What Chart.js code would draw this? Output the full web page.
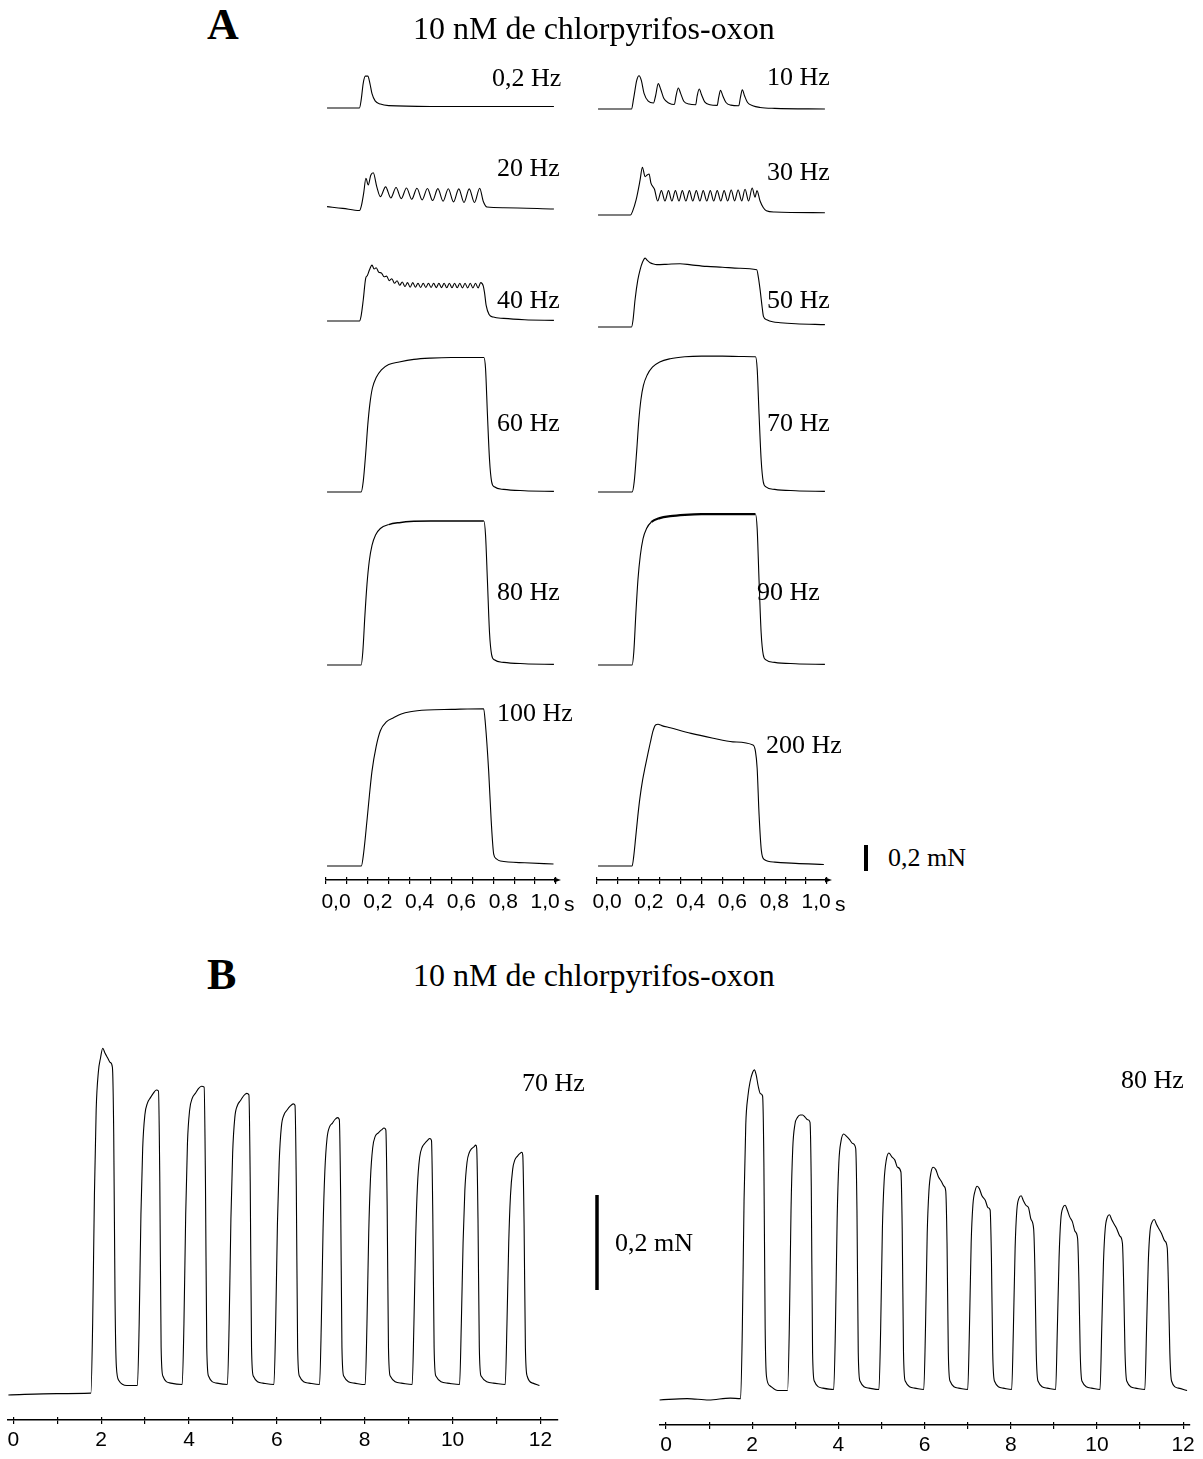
<!DOCTYPE html>
<html><head><meta charset="utf-8">
<script src="https://cdn.jsdelivr.net/npm/chart.js@4.4.0/dist/chart.umd.min.js"></script>
<style>
html,body{margin:0;padding:0;background:#fff;}
body{width:1203px;height:1459px;position:relative;overflow:hidden;}
canvas{position:absolute;}
.t{position:absolute;font-family:'Liberation Serif','Times New Roman',serif;color:#000;white-space:nowrap;line-height:1;transform:translateY(-50%);}
.s{font-family:'Liberation Sans',Arial,sans-serif;}
</style></head><body>
<script>
// ---------- DATA (time in s, force in mN above baseline) ----------
const hz0_2 = [[0.005,0],[0.16,0],[0.168,0.06],[0.178,0.19],[0.188,0.245],[0.2,0.245],[0.21,0.19],[0.22,0.11],[0.235,0.055],[0.26,0.03],[0.3,0.018],[0.5,0.012],[0.8,0.012],[1.09,0.012]];
const hz10 = [[0.005,0],[0.165,0],[0.175,0.08],[0.19,0.22],[0.201,0.256],[0.212,0.22],[0.225,0.12],[0.245,0.06],[0.27,0.046],[0.28,0.1],[0.293,0.195],[0.305,0.15],[0.32,0.08],[0.345,0.045],[0.37,0.035],[0.378,0.1],[0.389,0.162],[0.4,0.12],[0.415,0.06],[0.44,0.038],[0.472,0.033],[0.479,0.1],[0.489,0.154],[0.5,0.11],[0.515,0.055],[0.54,0.033],[0.575,0.028],[0.582,0.09],[0.591,0.143],[0.602,0.1],[0.617,0.05],[0.64,0.03],[0.678,0.025],[0.686,0.09],[0.695,0.148],[0.706,0.1],[0.72,0.05],[0.745,0.025],[0.78,0.012],[0.85,0.005],[1.09,0]];
const hz20 = [[0.005,0.018],[0.08,0.005],[0.16,-0.012],[0.17,0.03],[0.18,0.12],[0.191,0.236],[0.202,0.185],[0.214,0.26],[0.226,0.279],[0.243,0.17],[0.26,0.095],[0.285,0.17],[0.31,0.085],[0.335,0.165],[0.36,0.08],[0.385,0.162],[0.41,0.075],[0.435,0.16],[0.46,0.07],[0.485,0.158],[0.51,0.065],[0.535,0.157],[0.56,0.06],[0.585,0.156],[0.61,0.055],[0.635,0.155],[0.66,0.05],[0.685,0.155],[0.71,0.05],[0.735,0.16],[0.752,0.06],[0.77,0.015],[0.85,0.01],[1.09,0.0]];
const hz30 = [[0.005,-0.008],[0.16,-0.008],[0.17,0.02],[0.187,0.108],[0.206,0.26],[0.217,0.36],[0.23,0.287],[0.24,0.3],[0.249,0.308],[0.258,0.238],[0.275,0.19],[0.29,0.1],[0.308,0.18],[0.325,0.1],[0.342,0.18],[0.358,0.1],[0.375,0.18],[0.392,0.1],[0.408,0.18],[0.425,0.1],[0.442,0.18],[0.458,0.1],[0.475,0.18],[0.492,0.1],[0.508,0.18],[0.525,0.1],[0.542,0.18],[0.558,0.1],[0.575,0.18],[0.592,0.1],[0.608,0.18],[0.625,0.1],[0.642,0.185],[0.658,0.1],[0.675,0.185],[0.692,0.1],[0.708,0.19],[0.725,0.1],[0.742,0.2],[0.756,0.13],[0.765,0.18],[0.78,0.1],[0.795,0.05],[0.81,0.025],[0.85,0.015],[1.09,0.01]];
const hz40 = [[0.005,0],[0.16,0],[0.168,0.04],[0.178,0.16],[0.19,0.33],[0.198,0.35],[0.207,0.39],[0.22,0.43],[0.23,0.4],[0.24,0.41],[0.2525,0.375],[0.265,0.37],[0.2775,0.34],[0.29,0.345],[0.3025,0.31],[0.315,0.325],[0.3275,0.29],[0.34,0.31],[0.3525,0.275],[0.365,0.3],[0.3775,0.265],[0.39,0.295],[0.4025,0.26],[0.415,0.295],[0.4275,0.26],[0.44,0.29],[0.4525,0.258],[0.465,0.29],[0.4775,0.258],[0.49,0.29],[0.5025,0.258],[0.515,0.29],[0.5275,0.257],[0.54,0.29],[0.5525,0.257],[0.565,0.29],[0.5775,0.256],[0.59,0.29],[0.6025,0.256],[0.615,0.29],[0.6275,0.256],[0.64,0.29],[0.6525,0.255],[0.665,0.29],[0.6775,0.255],[0.69,0.29],[0.7025,0.255],[0.715,0.29],[0.7275,0.255],[0.74,0.295],[0.752,0.27],[0.758,0.22],[0.766,0.12],[0.78,0.05],[0.8,0.03],[0.85,0.02],[0.95,0.01],[1.09,0.005]];
const hz50 = [[0.005,0],[0.165,0],[0.172,0.05],[0.182,0.21],[0.195,0.36],[0.206,0.44],[0.218,0.5],[0.23,0.53],[0.242,0.51],[0.254,0.495],[0.27,0.485],[0.286,0.48],[0.33,0.482],[0.397,0.487],[0.45,0.478],[0.525,0.466],[0.6,0.46],[0.68,0.452],[0.764,0.44],[0.772,0.38],[0.78,0.287],[0.79,0.15],[0.796,0.082],[0.812,0.056],[0.84,0.04],[0.876,0.033],[0.95,0.025],[1.09,0.018]];
const hz60 = [[0.005,0],[0.168,0],[0.178,0.08],[0.19,0.3],[0.2,0.52],[0.21,0.68],[0.222,0.8],[0.24,0.88],[0.265,0.94],[0.3,0.98],[0.35,1.0],[0.42,1.02],[0.5,1.03],[0.6,1.035],[0.7,1.035],[0.755,1.035],[0.763,0.95],[0.772,0.6],[0.782,0.25],[0.792,0.08],[0.805,0.04],[0.85,0.02],[0.95,0.01],[1.09,0.005]];
const hz70 = [[0.005,0],[0.168,0],[0.178,0.08],[0.19,0.32],[0.2,0.55],[0.21,0.71],[0.222,0.82],[0.24,0.9],[0.265,0.96],[0.3,1.0],[0.35,1.025],[0.42,1.04],[0.5,1.045],[0.6,1.045],[0.7,1.042],[0.758,1.04],[0.766,0.95],[0.775,0.6],[0.785,0.25],[0.795,0.08],[0.808,0.04],[0.85,0.02],[0.95,0.01],[1.09,0.005]];
const hz80 = [[0.005,0],[0.168,0],[0.176,0.1],[0.186,0.38],[0.196,0.62],[0.207,0.8],[0.22,0.92],[0.237,1.0],[0.26,1.05],[0.3,1.08],[0.35,1.095],[0.42,1.105],[0.5,1.108],[0.6,1.108],[0.7,1.108],[0.755,1.108],[0.763,1.0],[0.772,0.65],[0.782,0.25],[0.792,0.08],[0.805,0.04],[0.85,0.02],[0.95,0.01],[1.09,0.005]];
const hz90 = [[0.005,0],[0.168,0],[0.176,0.1],[0.186,0.4],[0.196,0.66],[0.207,0.84],[0.22,0.97],[0.237,1.05],[0.26,1.1],[0.3,1.13],[0.35,1.145],[0.42,1.155],[0.5,1.16],[0.6,1.16],[0.7,1.16],[0.758,1.16],[0.766,1.05],[0.775,0.65],[0.785,0.25],[0.795,0.08],[0.808,0.04],[0.85,0.02],[0.95,0.01],[1.09,0.005]];
const hz100 = [[0.005,0],[0.169,0],[0.18,0.1],[0.196,0.35],[0.208,0.55],[0.22,0.73],[0.24,0.92],[0.26,1.04],[0.29,1.11],[0.323,1.14],[0.36,1.17],[0.403,1.187],[0.483,1.2],[0.6,1.205],[0.754,1.21],[0.762,1.1],[0.778,0.73],[0.79,0.35],[0.802,0.092],[0.815,0.055],[0.834,0.038],[0.95,0.025],[1.088,0.015]];
const hz200 = [[0.005,0],[0.168,0],[0.176,0.08],[0.185,0.22],[0.195,0.38],[0.205,0.52],[0.218,0.66],[0.23,0.76],[0.243,0.86],[0.255,0.95],[0.268,1.04],[0.28,1.085],[0.292,1.09],[0.31,1.08],[0.35,1.063],[0.45,1.02],[0.55,0.985],[0.65,0.955],[0.746,0.93],[0.758,0.88],[0.766,0.75],[0.775,0.4],[0.786,0.12],[0.8,0.05],[0.85,0.03],[0.95,0.02],[1.085,0.012]];

// Panel B (time in s, force in mN)
const b70Hz = [[-0.1,0],[1.0,0.003],[1.78,0.004],
 [1.82,0.15],[1.86,0.42],[1.9,0.6],[1.95,0.68],[2.0,0.71],[2.05,0.73],[2.1,0.72],[2.16,0.71],[2.22,0.70],[2.27,0.69],[2.3,0.55],[2.33,0.2],[2.36,0.06],[2.42,0.03],[2.6,0.02],[2.84,0.02],
 [2.88,0.15],[2.92,0.38],[2.96,0.52],[3.01,0.59],[3.07,0.615],[3.13,0.625],[3.2,0.635],[3.27,0.642],[3.32,0.64],[3.35,0.45],[3.38,0.1],[3.42,0.04],[3.6,0.025],[3.86,0.022],
 [3.9,0.15],[3.94,0.38],[3.98,0.53],[4.03,0.6],[4.09,0.625],[4.16,0.635],[4.23,0.645],[4.3,0.65],[4.36,0.648],[4.39,0.45],[4.42,0.1],[4.46,0.04],[4.65,0.025],[4.89,0.022],
 [4.93,0.15],[4.97,0.37],[5.01,0.51],[5.06,0.585],[5.12,0.61],[5.19,0.62],[5.26,0.63],[5.33,0.635],[5.38,0.632],[5.41,0.45],[5.44,0.1],[5.48,0.04],[5.7,0.025],[5.95,0.022],
 [5.99,0.15],[6.03,0.36],[6.07,0.49],[6.12,0.565],[6.18,0.59],[6.25,0.6],[6.32,0.608],[6.39,0.613],[6.43,0.61],[6.46,0.44],[6.49,0.1],[6.53,0.04],[6.75,0.025],[6.99,0.022],
 [7.03,0.15],[7.07,0.35],[7.11,0.47],[7.16,0.54],[7.22,0.565],[7.28,0.572],[7.34,0.58],[7.4,0.584],[7.44,0.58],[7.47,0.42],[7.5,0.1],[7.54,0.04],[7.78,0.025],[8.03,0.022],
 [8.07,0.15],[8.11,0.34],[8.15,0.455],[8.2,0.52],[8.26,0.545],[8.33,0.552],[8.4,0.558],[8.46,0.562],[8.5,0.558],[8.53,0.4],[8.56,0.1],[8.6,0.04],[8.85,0.025],[9.1,0.022],
 [9.14,0.15],[9.18,0.33],[9.22,0.44],[9.27,0.5],[9.33,0.522],[9.39,0.53],[9.45,0.536],[9.5,0.54],[9.54,0.536],[9.57,0.38],[9.6,0.1],[9.64,0.04],[9.9,0.025],[10.18,0.022],
 [10.22,0.15],[10.26,0.32],[10.3,0.43],[10.35,0.49],[10.4,0.51],[10.45,0.518],[10.5,0.522],[10.55,0.526],[10.57,0.52],[10.6,0.37],[10.63,0.1],[10.67,0.04],[10.95,0.025],[11.22,0.022],
 [11.26,0.15],[11.3,0.32],[11.34,0.42],[11.39,0.475],[11.44,0.495],[11.5,0.503],[11.55,0.508],[11.6,0.511],[11.62,0.505],[11.65,0.36],[11.68,0.1],[11.72,0.04],[11.85,0.025],[12.0,0.02]];
const b80Hz = [[-0.14,0],[0.5,0.003],[1.0,0.0],[1.5,0.004],[1.74,0.003],
 [1.78,0.15],[1.82,0.42],[1.86,0.58],[1.91,0.64],[1.96,0.67],[2.02,0.69],[2.06,0.695],[2.1,0.685],[2.15,0.66],[2.2,0.645],[2.25,0.64],[2.28,0.5],[2.31,0.15],[2.34,0.05],[2.42,0.03],[2.6,0.02],[2.83,0.02],
 [2.87,0.15],[2.91,0.4],[2.95,0.53],[3.0,0.58],[3.06,0.595],[3.12,0.6],[3.18,0.6],[3.24,0.595],[3.3,0.59],[3.35,0.585],[3.38,0.45],[3.41,0.1],[3.45,0.04],[3.65,0.025],[3.9,0.022],
 [3.94,0.15],[3.98,0.38],[4.02,0.5],[4.07,0.545],[4.13,0.56],[4.2,0.555],[4.27,0.548],[4.34,0.54],[4.41,0.53],[4.44,0.4],[4.47,0.1],[4.51,0.04],[4.72,0.025],[4.95,0.022],
 [4.99,0.15],[5.03,0.36],[5.07,0.46],[5.12,0.505],[5.18,0.52],[5.25,0.512],[5.32,0.505],[5.38,0.49],[5.46,0.48],[5.49,0.36],[5.52,0.1],[5.56,0.04],[5.78,0.025],[5.99,0.022],
 [6.03,0.15],[6.07,0.35],[6.11,0.44],[6.16,0.48],[6.21,0.49],[6.27,0.485],[6.33,0.47],[6.4,0.46],[6.46,0.45],[6.5,0.44],[6.53,0.33],[6.56,0.1],[6.6,0.04],[6.8,0.025],[7.01,0.022],
 [7.05,0.15],[7.09,0.33],[7.13,0.41],[7.18,0.44],[7.23,0.45],[7.28,0.445],[7.34,0.43],[7.42,0.42],[7.48,0.405],[7.53,0.40],[7.56,0.3],[7.59,0.1],[7.63,0.04],[7.83,0.025],[8.03,0.022],
 [8.07,0.15],[8.11,0.32],[8.15,0.4],[8.2,0.425],[8.25,0.43],[8.3,0.42],[8.36,0.41],[8.42,0.405],[8.48,0.38],[8.54,0.36],[8.57,0.27],[8.6,0.1],[8.64,0.04],[8.85,0.025],[9.05,0.022],
 [9.09,0.15],[9.13,0.3],[9.17,0.38],[9.22,0.405],[9.27,0.41],[9.32,0.4],[9.38,0.385],[9.44,0.375],[9.5,0.355],[9.56,0.34],[9.59,0.25],[9.62,0.1],[9.66,0.04],[9.88,0.025],[10.08,0.022],
 [10.12,0.15],[10.16,0.29],[10.2,0.36],[10.25,0.385],[10.3,0.39],[10.35,0.38],[10.41,0.37],[10.47,0.36],[10.54,0.345],[10.6,0.33],[10.63,0.24],[10.66,0.1],[10.7,0.04],[10.9,0.025],[11.12,0.022],
 [11.16,0.15],[11.2,0.29],[11.24,0.355],[11.29,0.375],[11.34,0.38],[11.39,0.37],[11.45,0.36],[11.51,0.35],[11.58,0.335],[11.64,0.32],[11.67,0.23],[11.7,0.1],[11.74,0.04],[11.9,0.025],[12.1,0.02]];

const scaleBarMN = [[0,0],[0,0.2]];
const tickLabelsA = ['0,0','0,2','0,4','0,6','0,8','1,0'];
const tickLabelsB = ['0','2','4','6','8','10','12'];
const freqLabels = ['0,2 Hz','10 Hz','20 Hz','30 Hz','40 Hz','50 Hz','60 Hz','70 Hz','80 Hz','90 Hz','100 Hz','200 Hz'];

// ---------- LAYOUT ----------
const A_PPS = 209, A_PPM = 130;      // px per s, px per mN (panel A)
const COL = [326, 597];              // x of t=0 for each column
const B_PPM = 475;

function addCanvas(left, top, w, h){
  const c = document.createElement('canvas');
  c.width = w; c.height = h;
  c.style.left = left + 'px'; c.style.top = top + 'px';
  c.style.width = w + 'px'; c.style.height = h + 'px';
  document.body.appendChild(c);
  return c;
}
function trace(pts, x0, ppx, xMin, xMax, base, ppy, padTop, padBot, lw, smooth, thick){
  const left = Math.round(x0 + xMin*ppx), w = Math.round((xMax - xMin)*ppx);
  const top = Math.round(base - padTop), h = padTop + padBot;
  const c = addCanvas(left, top, w, h);
  const ds = {data: pts.map(p => ({x: p[0], y: p[1]})), borderColor: '#000', borderWidth: lw || 1,
      pointRadius: 0, fill: false, clip: false, tension: 0,
      cubicInterpolationMode: smooth === false ? 'default' : 'monotone'};
  if (thick) ds.segment = {borderWidth: ctx => (ctx.p0.parsed.x >= thick[0] && ctx.p1.parsed.x <= thick[1]) ? thick[2] : (lw || 1)};
  new Chart(c, {
    type: 'line',
    data: {datasets: [ds]},
    options: {responsive: false, animation: false, events: [], layout: {padding: 0},
      plugins: {legend: {display: false}, tooltip: {enabled: false}},
      scales: {x: {type: 'linear', min: xMin, max: xMax, display: false},
               y: {type: 'linear', min: -padBot/ppy, max: padTop/ppy, display: false}}}
  });
}
const arrowPlugin = {id: 'arrowEnd', afterDraw(chart, args, opts){
  if (!opts.on) return;
  const ca = chart.chartArea, ctx = chart.ctx;
  ctx.save(); ctx.fillStyle = '#000'; ctx.beginPath();
  ctx.moveTo(ca.right + 5, ca.bottom); ctx.lineTo(ca.right - 2, ca.bottom - 2.5); ctx.lineTo(ca.right - 2, ca.bottom + 2.5);
  ctx.closePath(); ctx.fill(); ctx.restore();
}};
function axis(x0, ppx, xMin, xMax, yLine, step, labelFn, fontSize, labelOffset, arrow, pad){
  const padL = 30, padR = 40, above = 3;
  const left = Math.round(x0 + xMin*ppx) - padL, w = Math.round((xMax - xMin)*ppx) + padL + padR;
  const c = addCanvas(left, yLine - above, w, above + 44);
  new Chart(c, {
    type: 'scatter', data: {datasets: []}, plugins: [arrowPlugin],
    options: {responsive: false, animation: false, events: [],
      layout: {padding: {left: padL, right: padR, top: 0, bottom: 0}},
      plugins: {legend: {display: false}, tooltip: {enabled: false}, arrowEnd: {on: arrow}},
      scales: {
        x: {type: 'linear', position: 'bottom', min: xMin, max: xMax,
          afterFit(s){ s.height = 44; },
          border: {display: true, color: '#000', width: 1.5},
          grid: {display: true, drawOnChartArea: true, drawTicks: true, tickLength: 4, color: '#000', lineWidth: 1.2},
          ticks: {stepSize: step, includeBounds: false, autoSkip: false, maxRotation: 0, padding: pad, labelOffset: labelOffset,
            color: '#000', font: {family: "'Liberation Sans', Arial, sans-serif", size: fontSize},
            callback: labelFn}},
        y: {display: false, min: 0, max: 1}
      }}
  });
}
function txt(s, left, cy, size, bold, cls){
  const d = document.createElement('div');
  d.className = 't' + (cls ? ' ' + cls : ''); d.textContent = s;
  d.style.left = left + 'px'; d.style.top = cy + 'px'; d.style.fontSize = size + 'px';
  if (bold) d.style.fontWeight = 'bold';
  document.body.appendChild(d);
}

// ---------- PANEL A ----------
const rowsA = [
  [hz0_2, 0, 108.3], [hz10, 1, 109.3],
  [hz20, 0, 209], [hz30, 1, 214],
  [hz40, 0, 320.7], [hz50, 1, 327.3],
  [hz60, 0, 492], [hz70, 1, 492],
  [hz80, 0, 665, [0.3, 0.756, 1.5]], [hz90, 1, 665, [0.26, 0.759, 2.2]],
  [hz100, 0, 866], [hz200, 1, 866]
];
rowsA.forEach(r => trace(r[0], COL[r[1]], A_PPS, 0, 1.1, r[2], A_PPM, 175, 15, 1.1, true, r[3]));

const labA = (v) => { const k = Math.round(v*10); if (Math.abs(v*10 - k) > 1e-6) return ''; return (k % 2 === 0 && k <= 10) ? tickLabelsA[k/2] : ''; };
axis(COL[0], A_PPS, 0, 1.1, 880, 0.1, labA, 21, 10, true, 6);
axis(COL[1], A_PPS, 0, 1.1, 880, 0.1, labA, 21, 10, true, 6);
txt('s', COL[0] + A_PPS + 29, 903, 21, false, 's');
txt('s', COL[1] + A_PPS + 29, 903, 21, false, 's');

// scale bar A
trace(scaleBarMN, 866, 4, -1, 1, 871, A_PPM, 40, 4, 4, false);
txt('0,2 mN', 888, 858, 26);

txt('A', 207, 25, 44, true);
txt('10 nM de chlorpyrifos-oxon', 413, 28, 32);
const freqPos = [[492,78],[767,77],[497,168],[767,172],[497,300],[767,300],[497,423],[767,423],[497,592],[757,592],[497,713],[766,745]];
freqLabels.forEach((s, i) => txt(s, freqPos[i][0], freqPos[i][1], 26));

// ---------- PANEL B ----------
txt('B', 207, 975, 44, true);
txt('10 nM de chlorpyrifos-oxon', 413, 975, 32);
const B_LEFT = {x0: 13, ppx: 43.9, base: 1395, axisY: 1420};
const B_RIGHT = {x0: 666, ppx: 43.1, base: 1400, axisY: 1425};
trace(b70Hz, B_LEFT.x0, B_LEFT.ppx, -0.2, 12.4, B_LEFT.base, B_PPM, 370, 12, 1.1);
trace(b80Hz, B_RIGHT.x0, B_RIGHT.ppx, -0.2, 12.4, B_RIGHT.base, B_PPM, 370, 12, 1.1);
const labB = (v) => { const k = Math.round(v); if (Math.abs(v - k) > 1e-6) return ''; return (k % 2 === 0 && k >= 0 && k <= 12) ? tickLabelsB[k/2] : ''; };
axis(B_LEFT.x0, B_LEFT.ppx, -0.12, 12.4, B_LEFT.axisY, 1, labB, 21, 0, false, 4);
axis(B_RIGHT.x0, B_RIGHT.ppx, -0.14, 12.16, B_RIGHT.axisY, 1, labB, 21, 0, false, 4);
txt('70 Hz', 522, 1083, 26);
txt('80 Hz', 1121, 1080, 26);
trace(scaleBarMN, 597, 4, -1, 1, 1290, B_PPM, 110, 4, 3.5, false);
txt('0,2 mN', 615, 1243, 26);
</script>
</body></html>
